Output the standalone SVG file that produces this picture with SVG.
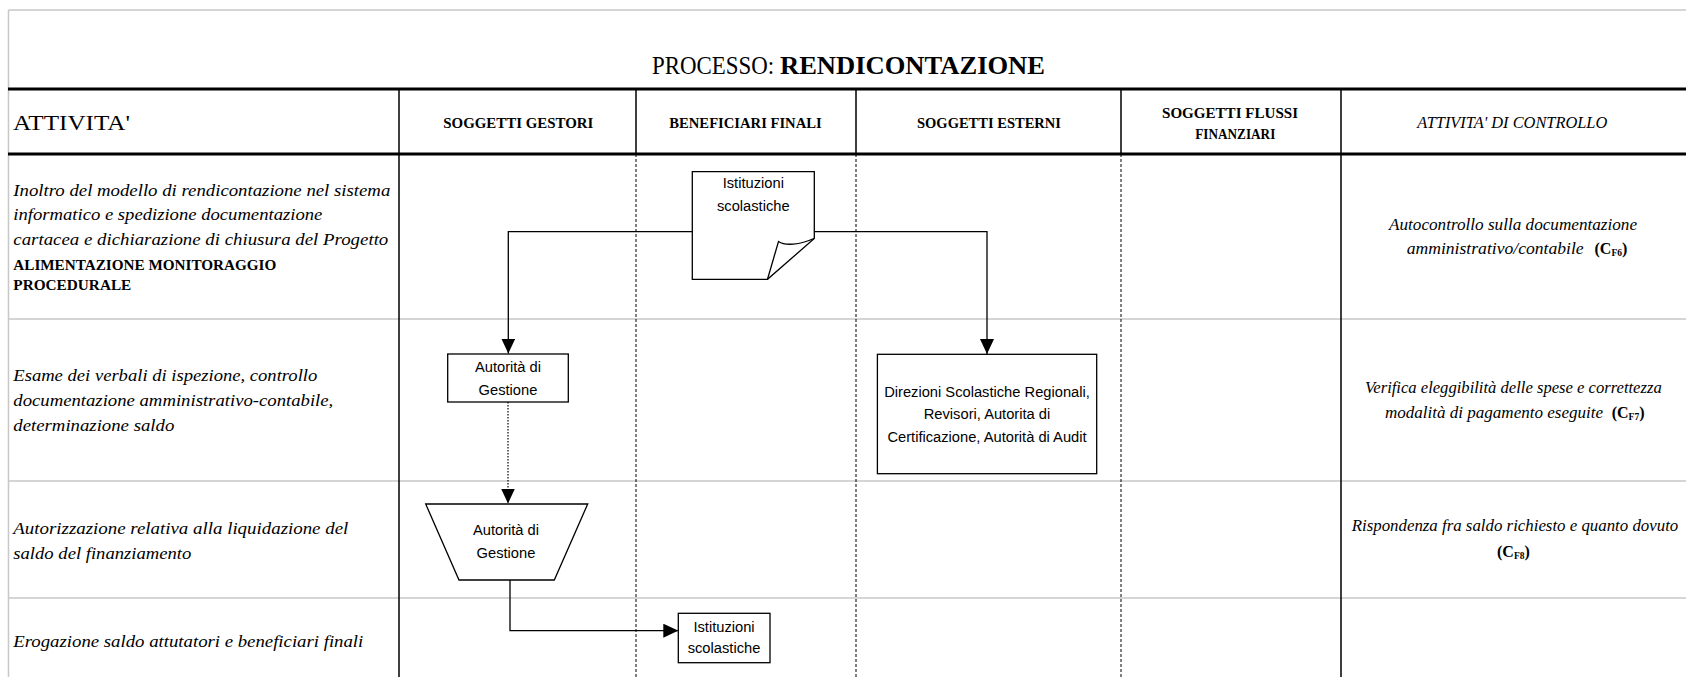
<svg xmlns="http://www.w3.org/2000/svg" width="1686" height="677" viewBox="0 0 1686 677">
<style>
.grid{stroke:#c8c8c8;stroke-width:1.5;fill:none}
.thick{stroke:#000;stroke-width:3;fill:none}
.solid{stroke:#000;stroke-width:1.5;fill:none}
.dash{stroke:#000;stroke-width:1;stroke-dasharray:3 2;fill:none}
.shape{fill:#fff;stroke:#000;stroke-width:1.3}
.conn{stroke:#000;stroke-width:1.3;fill:none}
.dot{stroke:#000;stroke-width:1.2;stroke-dasharray:1.5 1.5;fill:none}
.sans{font-family:"Liberation Sans",Arial,sans-serif;font-size:14.7px;fill:#000;text-anchor:middle}
.ser{font-family:"Liberation Serif","Times New Roman",serif;fill:#000}
.it{font-style:italic;font-size:16px}
.hb{font-weight:bold;font-size:15.5px}
.bb{font-weight:bold;font-size:15px}
.cf{font-weight:bold;font-size:16px}
.sub{font-size:9.5px}
</style>
<defs>
<marker id="ah" markerUnits="userSpaceOnUse" markerWidth="15" markerHeight="14" refX="15" refY="7" orient="auto" viewBox="0 0 15 14">
<path d="M0,0 L15,7 L0,14 Z" fill="#000"/>
</marker>
</defs>
<rect x="0" y="0" width="1686" height="677" fill="#fff"/>
<g id="table">
<path class="grid" d="M8.5,10 H1686 M8.5,10 V677 M8.5,319 H1686 M8.5,481 H1686 M8.5,598 H1686"/>
<path class="thick" d="M8,89 H1686 M8,154 H1686"/>
<path class="solid" d="M399,89 V677 M1341,89 V677 M636,89 V154 M856,89 V154 M1121,89 V154"/>
<path class="dash" d="M636,154 V677 M856,154 V677 M1121,154 V677"/>
</g>
<g id="header">
<text class="ser" x="652" y="74" font-size="25" textLength="122" lengthAdjust="spacingAndGlyphs">PROCESSO:</text>
<text class="ser" x="780" y="74" font-size="25" font-weight="bold" textLength="265" lengthAdjust="spacingAndGlyphs">RENDICONTAZIONE</text>
<text class="ser" x="13" y="130" font-size="21" textLength="117" lengthAdjust="spacingAndGlyphs">ATTIVITA'</text>
<text class="ser hb" x="443.3" y="128.3" textLength="150" lengthAdjust="spacingAndGlyphs">SOGGETTI GESTORI</text>
<text class="ser hb" x="669.3" y="128.3" textLength="152.4" lengthAdjust="spacingAndGlyphs">BENEFICIARI FINALI</text>
<text class="ser hb" x="917" y="128.3" textLength="144" lengthAdjust="spacingAndGlyphs">SOGGETTI ESTERNI</text>
<text class="ser hb" x="1162" y="118.3" textLength="136" lengthAdjust="spacingAndGlyphs">SOGGETTI FLUSSI</text>
<text class="ser hb" x="1195.3" y="138.5" textLength="80" lengthAdjust="spacingAndGlyphs">FINANZIARI</text>
<text class="ser it" x="1417.3" y="128" font-size="15" textLength="190" lengthAdjust="spacingAndGlyphs">ATTIVITA' DI CONTROLLO</text>
</g>
<g id="activities">
<text class="ser it" x="13.3" y="196" textLength="377" lengthAdjust="spacingAndGlyphs">Inoltro del modello di rendicontazione nel sistema</text>
<text class="ser it" x="13.3" y="220" textLength="309" lengthAdjust="spacingAndGlyphs">informatico e spedizione documentazione</text>
<text class="ser it" x="13.3" y="245" textLength="375" lengthAdjust="spacingAndGlyphs">cartacea e dichiarazione di chiusura del Progetto</text>
<text class="ser bb" x="13.3" y="269.5" textLength="263" lengthAdjust="spacingAndGlyphs">ALIMENTAZIONE MONITORAGGIO</text>
<text class="ser bb" x="13.3" y="290" textLength="118" lengthAdjust="spacingAndGlyphs">PROCEDURALE</text>
<text class="ser it" x="13.3" y="381" textLength="304" lengthAdjust="spacingAndGlyphs">Esame dei verbali di ispezione, controllo</text>
<text class="ser it" x="13.3" y="406" textLength="320" lengthAdjust="spacingAndGlyphs">documentazione amministrativo-contabile,</text>
<text class="ser it" x="13.3" y="431" textLength="161" lengthAdjust="spacingAndGlyphs">determinazione saldo</text>
<text class="ser it" x="13.3" y="534" textLength="335" lengthAdjust="spacingAndGlyphs">Autorizzazione relativa alla liquidazione del</text>
<text class="ser it" x="13.3" y="559" textLength="178" lengthAdjust="spacingAndGlyphs">saldo del finanziamento</text>
<text class="ser it" x="13.3" y="647" textLength="350" lengthAdjust="spacingAndGlyphs">Erogazione saldo attutatori e beneficiari finali</text>
</g>
<g id="controls">
<text class="ser it" x="1389" y="229.5" textLength="248" lengthAdjust="spacingAndGlyphs">Autocontrollo sulla documentazione</text>
<text class="ser it" x="1406.7" y="253.5" textLength="177" lengthAdjust="spacingAndGlyphs">amministrativo/contabile</text>
<text class="ser cf" x="1594.5" y="253.5">(C<tspan class="sub" dy="2">F6</tspan><tspan dy="-2">)</tspan></text>
<text class="ser it" x="1365" y="393" textLength="296.7" lengthAdjust="spacingAndGlyphs">Verifica eleggibilità delle spese e correttezza</text>
<text class="ser it" x="1385" y="418" textLength="218" lengthAdjust="spacingAndGlyphs">modalità di pagamento eseguite</text>
<text class="ser cf" x="1611.7" y="418">(C<tspan class="sub" dy="2">F7</tspan><tspan dy="-2">)</tspan></text>
<text class="ser it" x="1351.7" y="531" textLength="326.6" lengthAdjust="spacingAndGlyphs">Rispondenza fra saldo richiesto e quanto dovuto</text>
<text class="ser cf" x="1497" y="557">(C<tspan class="sub" dy="2">F8</tspan><tspan dy="-2">)</tspan></text>
</g>
<g id="connectors">
<path class="conn" d="M692.3,231.7 H508.3 V353.5" marker-end="url(#ah)"/>
<path class="conn" d="M814.3,231.7 H987 V354" marker-end="url(#ah)"/>
<path class="dot" d="M508,402 V503.5" marker-end="url(#ah)"/>
<path class="conn" d="M510,580 V630.7 H678.3" marker-end="url(#ah)"/>
</g>
<g id="node-istituzioni-doc">
<path class="shape" d="M692.3,171.7 H814.3 V238.5 L767.5,279.3 H692.3 Z"/>
<path class="conn" d="M767.5,279.3 L778.5,241.5 C785,246 800,245 813.8,238.5"/>
<text class="sans" x="753.3" y="188.3">Istituzioni</text>
<text class="sans" x="753.3" y="211">scolastiche</text>
</g>
<g id="node-adg-1">
<rect class="shape" x="447.7" y="354" width="120.6" height="48"/>
<text class="sans" x="508" y="372.3">Autorità di</text>
<text class="sans" x="508" y="394.7">Gestione</text>
</g>
<g id="node-esterni">
<rect class="shape" x="877.4" y="354.3" width="219.3" height="119.4"/>
<text class="sans" x="987" y="396.7">Direzioni Scolastiche Regionali,</text>
<text class="sans" x="987" y="419.3">Revisori, Autorita di</text>
<text class="sans" x="987" y="442.3">Certificazione, Autorità di Audit</text>
</g>
<g id="node-adg-2">
<path class="shape" d="M425.7,504 H587.7 L554.3,580 H459 Z"/>
<text class="sans" x="506" y="535">Autorità di</text>
<text class="sans" x="506" y="557.7">Gestione</text>
</g>
<g id="node-istituzioni-box">
<rect class="shape" x="678.3" y="613.3" width="91.7" height="49.4"/>
<text class="sans" x="724" y="631.7">Istituzioni</text>
<text class="sans" x="724" y="653.3">scolastiche</text>
</g>
</svg>
